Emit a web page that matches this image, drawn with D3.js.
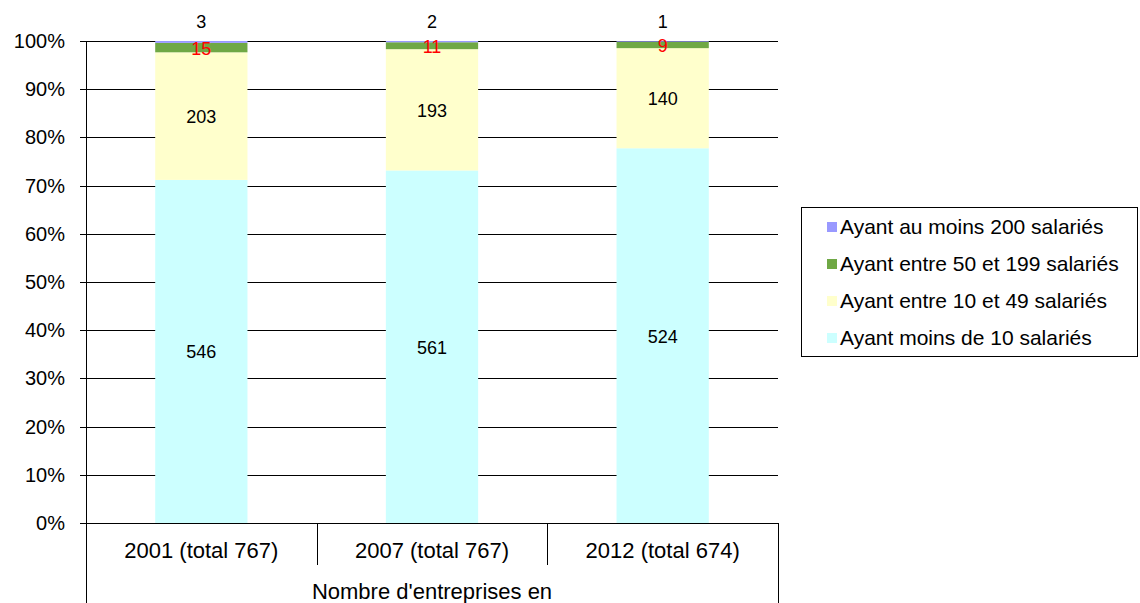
<!DOCTYPE html>
<html lang="fr">
<head>
<meta charset="UTF-8">
<title>Nombre d'entreprises</title>
<script src="https://d3js.org/d3.v7.min.js"></script>
<style>
    body { margin: 0; background: #fff; }
    svg { display: block; font-family: "Liberation Sans", Arial, sans-serif; }
</style>
</head>
<body>
<script>
    // Données
    const categories = ["2001 (total 767)", "2007 (total 767)", "2012 (total 674)"];
    const seriesNames = ["Ayant moins de 10 salariés", "Ayant entre 10 et 49 salariés", "Ayant entre 50 et 199 salariés", "Ayant au moins 200 salariés"];
    const moins10 = [546, 561, 524];
    const entre10et49 = [203, 193, 140];
    const entre50et199 = [15, 11, 9];
    const auMoins200 = [3, 2, 1];
    const yTicks = [0, 0.1, 0.2, 0.3, 0.4, 0.5, 0.6, 0.7, 0.8, 0.9, 1];
    const axisTitle = "Nombre d'entreprises en";

    const colors = ["#ccffff", "#ffffcc", "#6fa845", "#9999ff"];
    const labelColors = ["#000", "#000", "#ff0000", "#000"];

    const width = 1140, height = 603;
    const svg = d3.select("body").append("svg")
        .attr("width", width)
        .attr("height", height);

    const plot = { left: 86, right: 778, top: 41, bottom: 523 };

    const rows = categories.map((c, i) => ({
        cat: c,
        s0: moins10[i], s1: entre10et49[i], s2: entre50et199[i], s3: auMoins200[i]
    }));
    const keys = ["s0", "s1", "s2", "s3"];
    const stacked = d3.stack().keys(keys).offset(d3.stackOffsetExpand)(rows);

    const x = d3.scaleBand().domain(categories).range([plot.left, plot.right]);
    const y = d3.scaleLinear().domain([0, 1]).range([plot.bottom, plot.top]);
    const barW = x.bandwidth() * 0.4;

    // grille horizontale + graduations
    svg.append("g").selectAll("line")
        .data(yTicks)
        .join("line")
        .attr("x1", plot.left - 6).attr("x2", plot.right)
        .attr("y1", d => Math.round(y(d)) + 0.5)
        .attr("y2", d => Math.round(y(d)) + 0.5)
        .attr("stroke", "#000").attr("stroke-width", 1);

    svg.append("g").selectAll("text")
        .data(yTicks)
        .join("text")
        .attr("x", 65)
        .attr("y", d => y(d) + 7)
        .attr("text-anchor", "end")
        .style("font-size", "20px")
        .text(d => Math.round(d * 100) + "%");

    // barres
    const layer = svg.append("g").selectAll("g")
        .data(stacked)
        .join("g")
        .attr("fill", (d, i) => colors[i]);

    layer.selectAll("rect")
        .data(d => d)
        .join("rect")
        .attr("x", d => x(d.data.cat) + (x.bandwidth() - barW) / 2)
        .attr("width", barW)
        .attr("y", d => y(d[1]))
        .attr("height", d => y(d[0]) - y(d[1]));

    // étiquettes de données
    stacked.forEach((s, si) => {
        svg.append("g").selectAll("text")
            .data(s)
            .join("text")
            .attr("x", d => x(d.data.cat) + x.bandwidth() / 2)
            .attr("y", d => si === 3 ? plot.top - 13 : y((d[0] + d[1]) / 2) + 7)
            .attr("text-anchor", "middle")
            .attr("fill", labelColors[si])
            .style("font-size", "18px")
            .text(d => d.data[keys[si]]);
    });

    // axe vertical et séparateurs de catégories
    svg.append("line")
        .attr("x1", plot.left + 0.5).attr("x2", plot.left + 0.5)
        .attr("y1", plot.top).attr("y2", height)
        .attr("stroke", "#000");
    svg.append("line")
        .attr("x1", plot.right + 0.5).attr("x2", plot.right + 0.5)
        .attr("y1", plot.bottom).attr("y2", height)
        .attr("stroke", "#000");
    svg.append("g").selectAll("line")
        .data(categories.slice(1))
        .join("line")
        .attr("x1", d => Math.round(x(d)) + 0.5)
        .attr("x2", d => Math.round(x(d)) + 0.5)
        .attr("y1", plot.bottom).attr("y2", plot.bottom + 42)
        .attr("stroke", "#000");

    svg.append("g").selectAll("text")
        .data(categories)
        .join("text")
        .attr("x", d => x(d) + x.bandwidth() / 2)
        .attr("y", 558)
        .attr("text-anchor", "middle")
        .style("font-size", "22px")
        .text(d => d);

    svg.append("text")
        .attr("x", (plot.left + plot.right) / 2)
        .attr("y", 599)
        .attr("text-anchor", "middle")
        .style("font-size", "22px")
        .text(axisTitle);

    // légende
    const lg = svg.append("g").attr("transform", "translate(801,207)");
    lg.append("rect")
        .attr("x", 0.5).attr("y", 0.5)
        .attr("width", 336).attr("height", 149)
        .attr("fill", "#fff").attr("stroke", "#000");
    const order = [3, 2, 1, 0];
    const item = lg.selectAll("g.item")
        .data(order)
        .join("g")
        .attr("class", "item")
        .attr("transform", (d, i) => `translate(26,${20 + i * 37})`);
    item.append("rect")
        .attr("x", 0).attr("y", -5)
        .attr("width", 10).attr("height", 10)
        .attr("fill", d => colors[d]);
    item.append("text")
        .attr("x", 13).attr("y", 7)
        .style("font-size", "21px")
        .text(d => seriesNames[d]);
</script>
</body>
</html>
